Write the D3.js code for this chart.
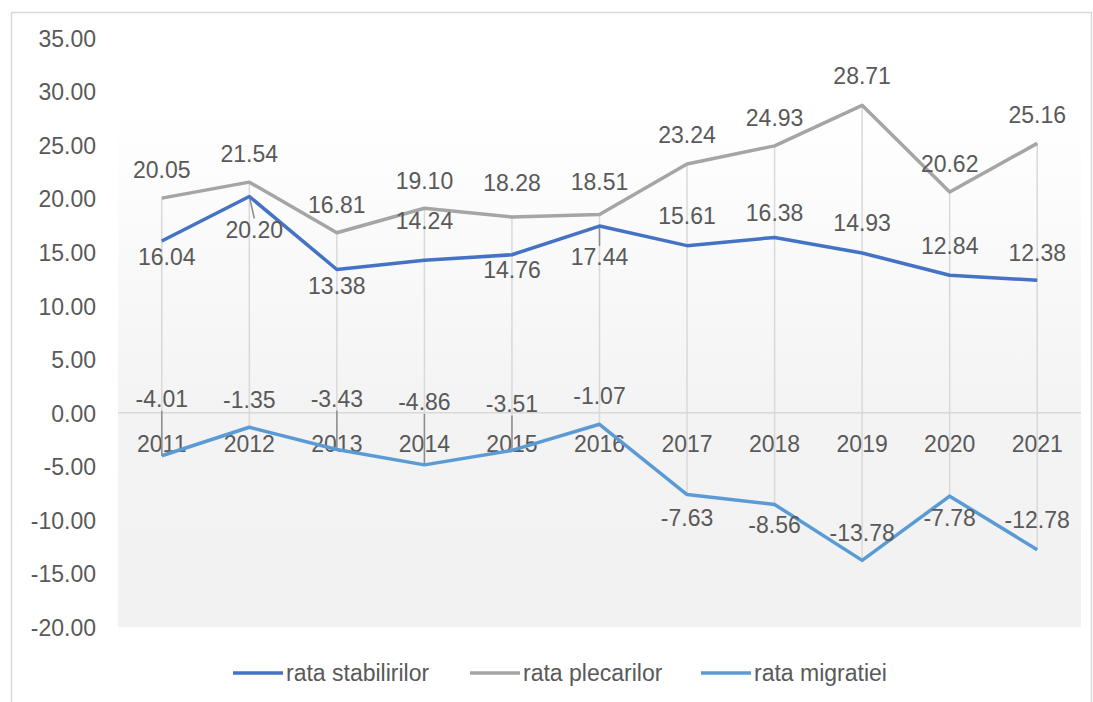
<!DOCTYPE html>
<html>
<head>
<meta charset="utf-8">
<script src="https://cdn.jsdelivr.net/npm/d3@7/dist/d3.min.js"></script>
<style>
	html, body { margin: 0; padding: 0; background: #fff; }
	svg text { font-family: Arial, "Liberation Sans", sans-serif; fill: #595959; }
</style>
</head>
<body>
<div id="viz-container"></div>
<script>
var years = ['2011','2012','2013','2014','2015','2016','2017','2018','2019','2020','2021'];
var stabilirilor = [16.04, 20.20, 13.38, 14.24, 14.76, 17.44, 15.61, 16.38, 14.93, 12.84, 12.38];
var plecarilor = [20.05, 21.54, 16.81, 19.10, 18.28, 18.51, 23.24, 24.93, 28.71, 20.62, 25.16];
var migratiei = [-4.01, -1.35, -3.43, -4.86, -3.51, -1.07, -7.63, -8.56, -13.78, -7.78, -12.78];
var yTicks = [35, 30, 25, 20, 15, 10, 5, 0, -5, -10, -15, -20];
var seriesNames = ['rata stabilirilor', 'rata plecarilor', 'rata migratiei'];

// label placement (pixels), picked by hand like in the original
var stabDy = [16, 33, 16, -40, 15, 31, -30, -25, -30, -30, -28],
	stabDx = [5, 5, 0, 0, 0, 0, 0, 0, 0, 0, 0],
	plecDy = [-28, -28, -28, -28, -34, -33, -29, -28, -30, -28, -29],
	migrDy = [-57, -28, -51, -63, -47, -29, 23, 20, -28, 22, -30];
var stabLeader = [1, 5], migrLeader = [0, 2, 3, 4];

visualize();

function visualize () {
	var W = 1093, H = 702,
		left = 118, right = 1081, top = 38, bottom = 627,
		colors = ['#4472c4', '#a5a5a5', '#5b9bd5'],
		fs = '23px';

	var svg = d3.select('#viz-container')
		.append('svg')
		.attr('width', W)
		.attr('height', H);

	var grad = svg.append('defs').append('linearGradient')
		.attr('id', 'bg')
		.attr('x1', 0).attr('y1', 0).attr('x2', 0).attr('y2', 1);
	grad.append('stop').attr('offset', '0%').attr('stop-color', '#ffffff');
	grad.append('stop').attr('offset', '12%').attr('stop-color', '#ffffff');
	grad.append('stop').attr('offset', '65%').attr('stop-color', '#f3f3f3');
	grad.append('stop').attr('offset', '100%').attr('stop-color', '#f2f2f2');

	// chart border
	svg.append('rect')
		.attr('x', 11.5).attr('y', 12.5)
		.attr('width', 1080).attr('height', 700)
		.attr('fill', 'none')
		.attr('stroke', '#d9d9d9')
		.attr('stroke-width', 1.5);

	var x = d3.scaleBand().domain(years).range([left, right]);
	var y = d3.scaleLinear().domain([-20, 35]).range([bottom, top]);
	var cx = function(d, i){ return x(years[i]) + x.bandwidth()/2; };

	svg.append('rect')
		.attr('x', left).attr('y', top)
		.attr('width', right - left).attr('height', bottom - top)
		.attr('fill', 'url(#bg)');

	// y axis labels (plain hyphen minus like the original)
	var yAxis = d3.axisLeft(y).tickValues(yTicks).tickSize(0).tickPadding(0)
		.tickFormat(function(d){ return d.toFixed(2); });
	var yg = svg.append('g').attr('transform', 'translate(96,0)').call(yAxis);
	yg.select('.domain').remove();
	yg.selectAll('text')
		.attr('fill', '#595959')
		.style('font-size', fs)
		.style('font-family', 'Arial, "Liberation Sans", sans-serif')
		.attr('dy', '0.36em');

	// zero line
	svg.append('line')
		.attr('x1', left).attr('x2', right)
		.attr('y1', y(0)).attr('y2', y(0))
		.attr('stroke', '#d9d9d9')
		.attr('stroke-width', 1.5);

	// high-low lines
	var all = [stabilirilor, plecarilor, migratiei];
	svg.append('g').selectAll('line')
		.data(years)
		.enter()
		.append('line')
		.attr('x1', cx).attr('x2', cx)
		.attr('y1', function(d, i){ return y(d3.max(all, function(s){ return s[i]; })); })
		.attr('y2', function(d, i){ return y(d3.min(all, function(s){ return s[i]; })); })
		.attr('stroke', '#d9d9d9')
		.attr('stroke-width', 1.5);

	// x labels
	svg.append('g').selectAll('text')
		.data(years)
		.enter()
		.append('text')
		.attr('x', cx)
		.attr('y', y(0) + 31)
		.attr('dy', '0.36em')
		.attr('text-anchor', 'middle')
		.style('font-size', fs)
		.text(function(d){ return d; });

	// leader lines
	function leaders (vals, dy, dx, idx) {
		idx.forEach(function(i){
			var px = cx(null, i), py = y(vals[i]),
				lx = px + dx[i], ly = py + dy[i] + (dy[i] > 0 ? -11 : 12);
			svg.append('line')
				.attr('x1', px).attr('y1', py)
				.attr('x2', lx).attr('y2', ly)
				.attr('stroke', '#8c8c8c')
				.attr('stroke-width', 1.5);
		});
	}
	var zeros = years.map(function(){ return 0; });
	leaders(stabilirilor, stabDy, stabDx, stabLeader);
	leaders(migratiei, migrDy, zeros, migrLeader);

	// lines
	var line = d3.line()
		.x(function(d, i){ return cx(d, i); })
		.y(function(d){ return y(d); });

	[plecarilor, stabilirilor, migratiei].forEach(function(s){
		var c = s === stabilirilor ? colors[0] : (s === plecarilor ? colors[1] : colors[2]);
		svg.append('path')
			.datum(s)
			.attr('d', line)
			.attr('fill', 'none')
			.attr('stroke', c)
			.attr('stroke-width', 3.5)
			.attr('stroke-linejoin', 'round');
	});

	// data labels
	function labels (vals, dy, dx) {
		svg.append('g').selectAll('text')
			.data(vals)
			.enter()
			.append('text')
			.attr('x', function(d, i){ return cx(d, i) + dx[i]; })
			.attr('y', function(d, i){ return y(d) + dy[i]; })
			.attr('dy', '0.36em')
			.attr('text-anchor', 'middle')
			.style('font-size', fs)
			.text(function(d){ return d.toFixed(2); });
	}
	labels(stabilirilor, stabDy, stabDx);
	labels(plecarilor, plecDy, zeros);
	labels(migratiei, migrDy, zeros);

	// legend
	var legX = [233, 470, 701];
	var leg = svg.append('g').selectAll('g')
		.data(seriesNames)
		.enter()
		.append('g')
		.attr('transform', function(d, i){ return 'translate(' + legX[i] + ',673)'; });
	leg.append('line')
		.attr('x1', 0).attr('x2', 50)
		.attr('stroke', function(d, i){ return colors[i]; })
		.attr('stroke-width', 3.5);
	leg.append('text')
		.attr('x', 53)
		.attr('dy', '0.36em')
		.style('font-size', fs)
		.text(function(d){ return d; });
}
</script>
</body>
</html>
